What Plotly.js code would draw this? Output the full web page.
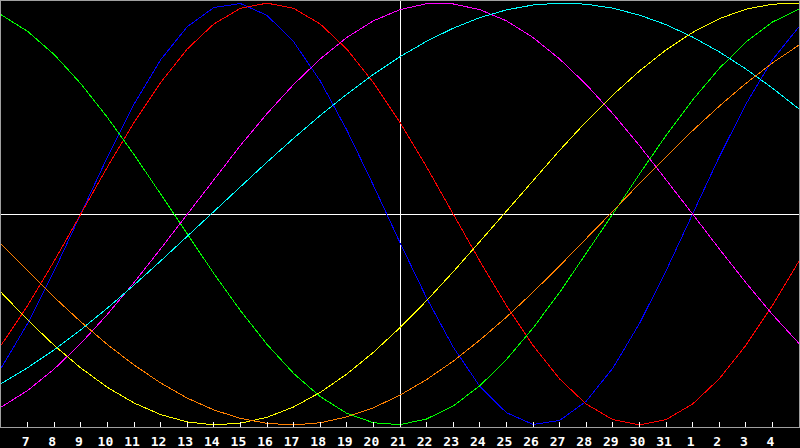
<!DOCTYPE html>
<html>
<head>
<meta charset="utf-8">
<script src="https://cdn.plot.ly/plotly-3.0.1.min.js"></script>
<style>
html, body { margin: 0; padding: 0; background: #000; }
#chart { width: 800px; height: 448px; }
.scatterlayer path, .shapelayer path { shape-rendering: crispEdges; }
</style>
</head>
<body>
<div id="chart"></div>
<script>
// Day index: 6..36 (days 32..36 = 1..5 of next month)
const days = [6,7,8,9,10,11,12,13,14,15,16,17,18,19,20,21,22,23,24,25,26,27,28,29,30,31,32,33,34,35,36];
const tickDays = [7,8,9,10,11,12,13,14,15,16,17,18,19,20,21,22,23,24,25,26,27,28,29,30,31,32,33,34,35];
const tickLabels = ["7","8","9","10","11","12","13","14","15","16","17","18","19","20","21","22","23","24","25","26","27","28","29","30","31","1","2","3","4"];
const todayDay = 21;

const physical = [-73.1,-52.0,-27.0,0,27.0,52.0,73.1,88.8,97.9,99.8,94.2,81.7,63.1,39.8,13.6,-13.6,-39.8,-63.1,-81.7,-94.2,-99.8,-97.9,-88.8,-73.1,-52.0,-27.0,0,27.0,52.0,73.1,88.8];
const emotional = [-62.3,-43.4,-22.3,0,22.3,43.4,62.3,78.2,90.1,97.5,100,97.5,90.1,78.2,62.3,43.4,22.3,0,-22.3,-43.4,-62.3,-78.2,-90.1,-97.5,-100,-97.5,-90.1,-78.2,-62.3,-43.4,-22.3];
const intellectual = [94.5,86.6,75.6,61.8,45.8,28.2,9.5,-9.5,-28.2,-45.8,-61.8,-75.6,-86.6,-94.5,-99.0,-99.9,-97.2,-91.0,-81.5,-69.0,-54.1,-37.2,-18.9,0,18.9,37.2,54.1,69.0,81.5,91.0,97.2];
const intuitive = [-91.6,-83.7,-73.5,-61.4,-47.6,-32.5,-16.5,0,16.5,32.5,47.6,61.4,73.5,83.7,91.6,96.9,99.7,99.6,96.9,91.6,83.7,73.5,61.4,47.6,32.5,16.5,0,-16.5,-32.5,-47.6,-61.4];
const spiritual = [-80.5,-72.9,-64.4,-54.9,-44.6,-33.7,-22.3,-10.6,1.2,13.0,24.6,35.9,46.7,56.8,66.2,74.6,81.9,88.1,93.1,96.8,99.1,99.98,99.5,97.6,94.3,89.8,83.9,76.9,68.8,59.7,49.8];
const aesthetic = [-37.1,-50.2,-62.3,-73.0,-82.2,-89.6,-95.1,-98.6,-99.98,-99.2,-96.4,-91.5,-84.6,-75.9,-65.6,-53.9,-41.1,-27.4,-13.1,1.5,16.0,30.2,43.8,56.4,67.8,77.8,86.1,92.6,97.1,99.5,99.9];
const awareness = [-14.3,-27.1,-39.5,-51.1,-61.9,-71.6,-80.1,-87.3,-92.9,-96.9,-99.3,-99.99,-99.0,-96.2,-91.9,-85.9,-78.5,-69.8,-59.8,-48.9,-37.1,-24.6,-11.8,1.3,14.4,27.1,39.5,51.1,61.9,71.6,80.1];

const seriesNames = ["Physical","Emotional","Intellectual","Intuitive","Spiritual","Aesthetic","Awareness"];
const seriesValues = [physical, emotional, intellectual, intuitive, spiritual, aesthetic, awareness];
const seriesColors = ["#0000ff","#ff0000","#00ff00","#ff00ff","#00ffff","#ffff00","#ff8000"];

const traces = seriesValues.map((vals, i) => ({
  x: days, y: vals, type: "scatter", mode: "lines", name: seriesNames[i],
  line: { color: seriesColors[i], width: 1 }, hoverinfo: "skip"
}));

const layout = {
  width: 800, height: 448,
  margin: { l: 1, r: 1, t: 1, b: 21, pad: 0 },
  paper_bgcolor: "#000000", plot_bgcolor: "#000000",
  showlegend: false,
  xaxis: {
    range: [6, 36], fixedrange: true,
    showgrid: false, zeroline: false,
    showline: true, mirror: true, linecolor: "#a0a0a0", linewidth: 1,
    tickmode: "array", tickvals: tickDays, ticktext: tickLabels,
    ticks: "inside", ticklen: 5, tickcolor: "#ffffff", tickwidth: 1,
    tickfont: { family: "DejaVu Sans Mono", size: 13, color: "#ffffff", weight: "bold" },
    ticklabelshift: -2, ticklabelstandoff: 2,
    tickangle: 0
  },
  yaxis: {
    range: [-101, 101], fixedrange: true,
    showgrid: false, zeroline: false, showticklabels: false, ticks: "",
    showline: true, mirror: true, linecolor: "#a0a0a0", linewidth: 1
  },
  shapes: [
    { type: "line", xref: "x", yref: "paper", x0: todayDay, x1: todayDay, y0: 0, y1: 1, line: { color: "#ffffff", width: 1 }, layer: "below" },
    { type: "line", xref: "paper", yref: "y", x0: 0, x1: 1, y0: 0, y1: 0, line: { color: "#ffffff", width: 1 }, layer: "below" }
  ]
};

Plotly.newPlot("chart", traces, layout, { displayModeBar: false, staticPlot: true });
</script>
</body>
</html>
